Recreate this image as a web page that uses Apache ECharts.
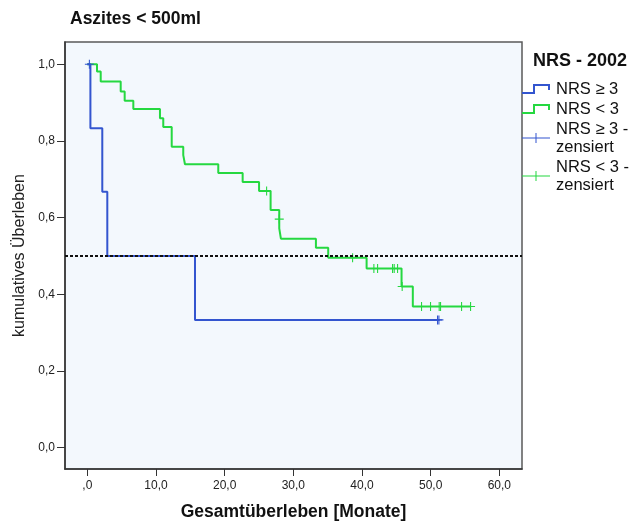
<!DOCTYPE html>
<html>
<head>
<meta charset="utf-8">
<script src="https://cdn.jsdelivr.net/npm/echarts@6/dist/echarts.min.js"></script>
<style>html,body{margin:0;padding:0;background:#fff}#c{width:635px;height:522px}</style>
</head>
<body>
<div id="c"></div>
<script>
// ---- data ----
const xTicks = [0, 10, 20, 30, 40, 50, 60];
const yTicks = [0, 0.2, 0.4, 0.6, 0.8, 1.0];

// NRS >= 3 : Kaplan-Meier steps (time, survival after event)
const blueTimes = [0, 0.45, 2.18, 2.91, 15.68, 51.3];
const blueSurv  = [1.0, 0.833, 0.667, 0.5, 0.333, 0.333];
const blueCensTimes = [0.3, 51.0, 51.2];
const blueCensSurv  = [1.0, 0.333, 0.333];

// NRS < 3
const greenTimes = [0, 1.41, 1.95, 4.86, 5.44, 6.70, 10.58, 11.06, 12.29, 13.97, 14.22, 19.07, 22.62, 25.01, 26.69, 27.95, 28.19, 33.29, 35.08, 40.67, 45.76, 47.4, 55.81];
const greenSurv  = [1.0, 0.981, 0.955, 0.929, 0.905, 0.883, 0.859, 0.836, 0.785, 0.763, 0.739, 0.716, 0.693, 0.669, 0.620, 0.572, 0.545, 0.521, 0.495, 0.467, 0.420, 0.368, 0.368];
const greenCensTimes = [26.11, 27.95, 38.63, 41.73, 42.27, 44.45, 44.69, 45.18, 45.85, 48.67, 49.98, 51.24, 51.44, 54.5, 55.81];
const greenCensSurv  = [0.669, 0.596, 0.495, 0.467, 0.467, 0.467, 0.467, 0.467, 0.420, 0.368, 0.368, 0.368, 0.368, 0.368, 0.368];

const medianLine = 0.5;

const names = ['NRS ≥ 3', 'NRS < 3', 'NRS ≥ 3 -\nzensiert', 'NRS < 3 -\nzensiert'];

// ---- styling ----
const FONT = 'Liberation Sans, Arial, sans-serif';
const BLUE = '#3355cf';
const GREEN = '#25d840';
const zip = (a, b) => a.map((v, i) => [v, b[i]]);
const crossSym = 'path://M-0.12,-1L0.12,-1L0.12,-0.12L1,-0.12L1,0.12L0.12,0.12L0.12,1L-0.12,1L-0.12,0.12L-1,0.12L-1,-0.12L-0.12,-0.12Z';
const stepIcon = 'path://M0,8L11,8L11,0L28,0L28,6L26,6L26,2L13,2L13,10L0,10Z';
const crossIcon = 'path://M0,4.5L13.5,4.5L13.5,0L14.5,0L14.5,4.5L28,4.5L28,5.5L14.5,5.5L14.5,10L13.5,10L13.5,5.5L0,5.5Z';

const chart = echarts.init(document.getElementById('c'), null, {renderer: 'canvas'});
chart.setOption({
  animation: false,
  backgroundColor: '#ffffff',
  textStyle: {fontFamily: FONT},
  title: [
    {text: 'Aszites < 500ml', left: 70, top: 10, padding: 0,
     textStyle: {fontSize: 17.5, fontWeight: 'bold', color: '#111', fontFamily: FONT}},
    {text: 'NRS - 2002', left: 533, top: 52, padding: 0,
     textStyle: {fontSize: 18, fontWeight: 'bold', color: '#111', fontFamily: FONT}}
  ],
  legend: {
    orient: 'vertical', left: 522, top: 80, padding: 0,
    itemWidth: 30, itemHeight: 10, itemGap: 2,
    selectedMode: false,
    textStyle: {fontSize: 16.5, color: '#111', lineHeight: 18, fontFamily: FONT},
    data: [
      {name: names[0], icon: stepIcon},
      {name: names[1], icon: stepIcon},
      {name: names[2], icon: crossIcon},
      {name: names[3], icon: crossIcon}
    ]
  },
  grid: {left: 65, top: 42, right: 113, bottom: 53, show: true, containLabel: false, outerBoundsMode: 'none',
         backgroundColor: '#f3f8fd', borderColor: '#5a5a5a', borderWidth: 1.5},
  xAxis: {
    type: 'value', min: -3.25, max: 63.3,
    name: 'Gesamtüberleben [Monate]', nameLocation: 'middle', nameGap: 34,
    nameTextStyle: {fontSize: 17.5, fontWeight: 'bold', color: '#111', fontFamily: FONT},
    axisLine: {show: true, onZero: false, lineStyle: {color: '#333', width: 1.5}},
    axisTick: {show: true, length: 7, inside: false, customValues: xTicks, lineStyle: {color: '#333'}},
    axisLabel: {customValues: xTicks, fontSize: 12, color: '#222', margin: 11,
                formatter: v => v === 0 ? ',0' : v.toFixed(1).replace('.', ',')},
    splitLine: {show: false}
  },
  yAxis: {
    type: 'value', min: -0.056, max: 1.058,
    name: 'kumulatives Überleben', nameLocation: 'middle', nameGap: 33, nameRotate: 90,
    nameTextStyle: {fontSize: 16, color: '#222', fontFamily: FONT},
    axisLine: {show: true, onZero: false, lineStyle: {color: '#333', width: 1.5}},
    axisTick: {show: true, length: 8, inside: false, customValues: yTicks, lineStyle: {color: '#333'}},
    axisLabel: {customValues: yTicks, fontSize: 12, color: '#222', margin: 10,
                formatter: v => v.toFixed(1).replace('.', ',')},
    splitLine: {show: false}
  },
  series: [
    {name: names[1], type: 'line', step: 'end', data: zip(greenTimes, greenSurv), showSymbol: false, symbol: 'none',
     lineStyle: {color: GREEN, width: 2}, itemStyle: {color: GREEN}, z: 2},
    {name: names[3], type: 'scatter', data: zip(greenCensTimes, greenCensSurv), symbol: crossSym, symbolSize: 9,
     itemStyle: {color: GREEN, opacity: 1}, z: 3},
    {name: names[0], type: 'line', step: 'end', data: zip(blueTimes, blueSurv), showSymbol: false, symbol: 'none',
     lineStyle: {color: BLUE, width: 2}, itemStyle: {color: BLUE}, z: 4},
    {name: names[2], type: 'scatter', data: zip(blueCensTimes, blueCensSurv), symbol: crossSym, symbolSize: 9,
     itemStyle: {color: BLUE, opacity: 1}, z: 5},
    {name: 'median', type: 'line', data: [], z: 10,
     markLine: {silent: true, symbol: 'none', label: {show: false},
       lineStyle: {color: '#111', type: [3, 2], width: 2},
       data: [{yAxis: medianLine}]}}
  ]
});
</script>
</body>
</html>
